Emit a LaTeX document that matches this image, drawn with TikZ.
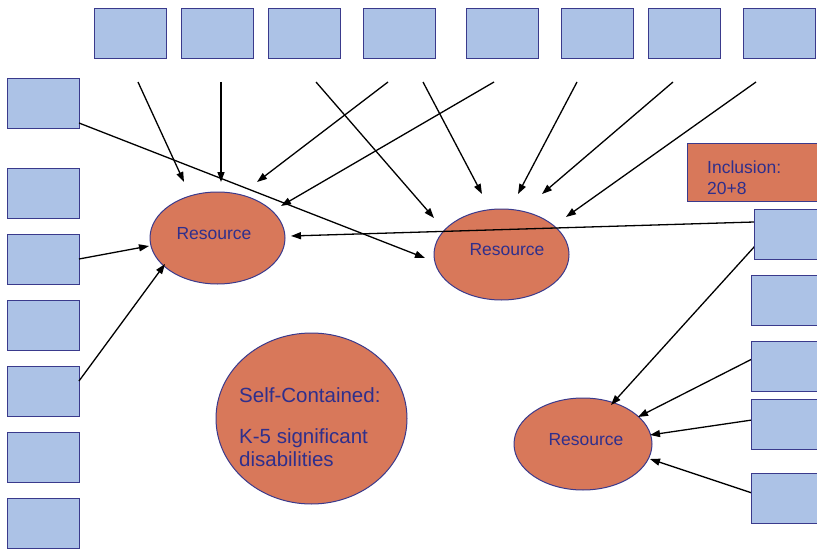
\documentclass[tikz,border=0pt]{standalone}
\usepackage{fontspec}
\setmainfont{Liberation Sans}
\usetikzlibrary{arrows.meta,shapes.geometric}
\definecolor{boxfill}{HTML}{ACC2E6}
\definecolor{boxline}{HTML}{3A3A8C}
\definecolor{ovalfill}{HTML}{D8785A}
\definecolor{txt}{HTML}{2F2F8C}
\begin{document}
\begin{tikzpicture}[x=1pt,y=-1pt,
  sq/.style={draw=boxline, fill=boxfill, line width=1pt, minimum width=72pt, minimum height=50pt, inner sep=0pt, anchor=north west},
  oval/.style={ellipse, draw=boxline, fill=ovalfill, line width=1pt, inner sep=0pt},
  arr/.style={-{Triangle[length=10pt,width=7pt]}, line width=1.3pt, black},
  lbl/.style={text=txt, font=\fontsize{17.5}{21}\selectfont, inner sep=0pt},
  big/.style={text=txt, font=\fontsize{20.5}{23}\selectfont, inner sep=0pt, anchor=base west}]
\useasboundingbox (0,0) rectangle (817,551);
% top boxes
\node[sq] (t1) at (94,8) {};
\node[sq] (t2) at (181,8) {};
\node[sq] (t3) at (268,8) {};
\node[sq] (t4) at (363,8) {};
\node[sq] (t5) at (466,8) {};
\node[sq] (t6) at (561,8) {};
\node[sq] (t7) at (648,8) {};
\node[sq] (t8) at (743,8) {};
% left boxes
\node[sq] (l1) at (7,78) {};
\node[sq] (l2) at (7,168) {};
\node[sq] (l3) at (7,234) {};
\node[sq] (l4) at (7,300) {};
\node[sq] (l5) at (7,366) {};
\node[sq] (l6) at (7,432) {};
\node[sq] (l7) at (7,498) {};
% inclusion box
\node[draw=boxline, fill=ovalfill, line width=1pt, minimum width=143pt, minimum height=58pt, inner sep=0pt, anchor=north west] (inc) at (687,143) {};
\node[lbl, anchor=base west] (inct1) at (707,173) {Inclusion:};
\node[lbl, anchor=base west] (inct2) at (707,194) {20+8};
% ellipses
\node[oval, minimum width=135pt, minimum height=92pt] (e1) at (217.5,238) {};
\node[oval, minimum width=135pt, minimum height=91pt] (e2) at (501.5,254.5) {};
\node[oval, minimum width=138pt, minimum height=92pt] (e3) at (583,444) {};
\node[oval, minimum width=191pt, minimum height=171pt] (sc) at (311.5,418.5) {};
\node[lbl] (e1t) at (214,234) {Resource};
\node[lbl] (e2t) at (507,250) {Resource};
\node[lbl] (e3t) at (586,440) {Resource};
\node[big] (sct1) at (239,402) {Self-Contained:};
\node[big] (sct2) at (239,443) {K-5 significant};
\node[big] (sct3) at (239,466) {disabilities};
% arrow end points
\coordinate (s1) at (138,82);  \coordinate (h1) at (184,182);
\coordinate (s2) at (221,82);  \coordinate (h2) at (221,182);
\coordinate (s3) at (388,82);  \coordinate (h3) at (257,182);
\coordinate (s4) at (494,82);  \coordinate (h4) at (281,206);
\coordinate (s5) at (316,82);  \coordinate (h5) at (434,218);
\coordinate (s6) at (423,82);  \coordinate (h6) at (482,194);
\coordinate (s7) at (577,82);  \coordinate (h7) at (518,194);
\coordinate (s8) at (673,82);  \coordinate (h8) at (542,194);
\coordinate (s9) at (756,82);  \coordinate (h9) at (566,217);
\coordinate (s10) at (79,123); \coordinate (h10) at (425,258);
\coordinate (s11) at (754,222); \coordinate (h11) at (291,236);
\coordinate (s12) at (79,259); \coordinate (h12) at (149,246);
\coordinate (s13) at (79,381); \coordinate (h13) at (165,264);
\coordinate (s14) at (755,246); \coordinate (h14) at (611,405);
\coordinate (s15) at (756,357); \coordinate (h15) at (638,417);
\coordinate (s16) at (752,420); \coordinate (h16) at (650,435);
\coordinate (s17) at (755,494); \coordinate (h17) at (650,459);
\foreach \i in {1,...,17} \draw[arr] (s\i) -- (h\i);
% right boxes (drawn over line starts)
\node[sq] (r1) at (754,209) {};
\node[sq] (r2) at (751,275) {};
\node[sq] (r3) at (751,341) {};
\node[sq] (r4) at (751,399) {};
\node[sq] (r5) at (751,473) {};
\end{tikzpicture}
\end{document}
